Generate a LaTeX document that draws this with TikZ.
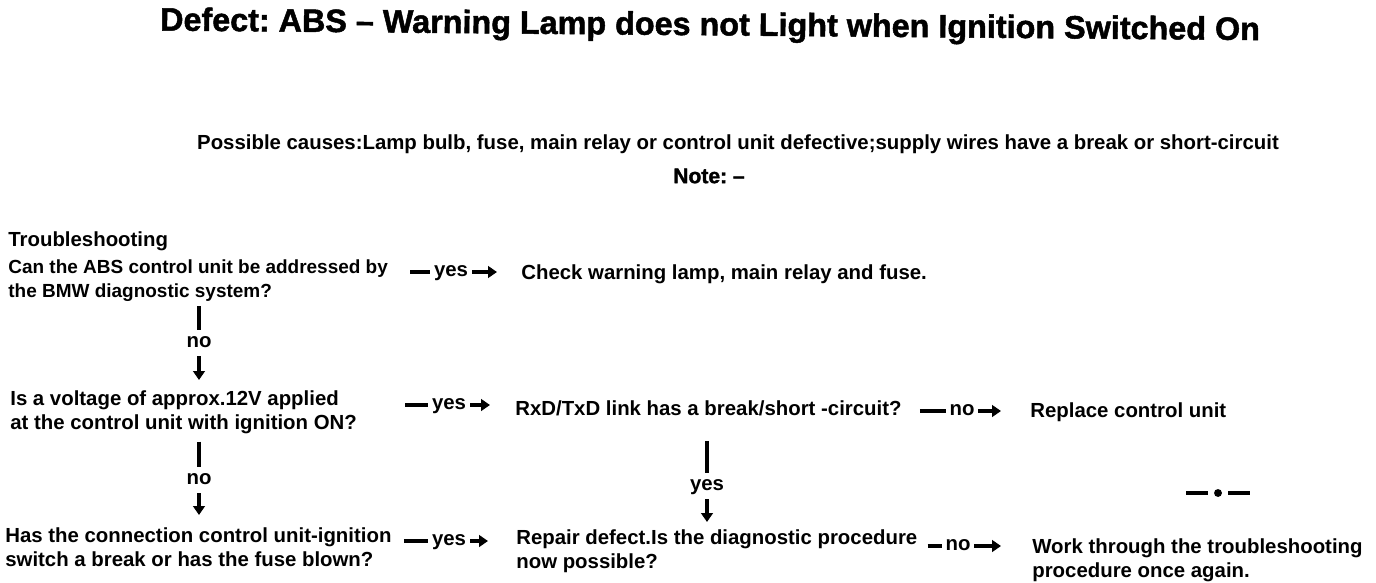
\documentclass[tikz,border=0pt]{standalone}
\usepackage{fontspec}
\setmainfont{Liberation Sans}
\newfontfamily\heavyfont[FakeBold=1.5]{Liberation Sans Bold}
\usetikzlibrary{arrows.meta}
\usetikzlibrary{backgrounds}
\frenchspacing

\begin{document}
\begin{tikzpicture}[x=0.02cm,y=-0.02cm,
    txt/.style={anchor=north west,align=left,inner sep=0pt,
      font=\bfseries\fontsize{11.6}{13.6}\selectfont},
    lbl/.style={fill=white,inner xsep=2pt,inner ysep=1pt,text height=1ex,text depth=0pt,
      font=\bfseries\fontsize{11.6}{13.6}\selectfont},
    vlbl/.style={lbl,inner ysep=5pt},
    link/.style={line width=2.2pt,-{Triangle[length=5pt,width=6.5pt]}},
    bar/.style={line width=2.2pt}]

      \useasboundingbox (0,0) rectangle (1376,582);

      \node (title) [font=\heavyfont\fontsize{18.4}{20}\selectfont,rotate=-0.5] at (710,27)
        {Defect: ABS – Warning Lamp does not Light when Ignition Switched On};

      \node (causes) [txt,anchor=north] at (738,134)
        {Possible causes:Lamp bulb, fuse, main relay or control unit defective;supply wires have a break or short-circuit};
      \node (note) [font=\heavyfont\fontsize{12}{14}\selectfont] at (709,176) {Note: –};

      \node (head) [txt] at (8,231) {Troubleshooting};
      \node (q1) [txt,font=\bfseries\fontsize{10.8}{13.6}\selectfont] at (8,259)
        {Can the ABS control unit be addressed by\\the BMW diagnostic system?};
      \node (c1) [txt] at (521,264) {Check warning lamp, main relay and fuse.};

      \node (q2) [txt] at (10,390) {Is a voltage of approx.12V applied\\at the control unit with ignition ON?};
      \node (r2) [txt] at (515,400) {RxD/TxD link has a break/short -circuit?};
      \node (a2) [txt] at (1030,402) {Replace control unit};

      \node (q3) [txt] at (5,527) {Has the connection control unit-ignition\\switch a break or has the fuse blown?};
      \node (r3) [txt] at (516,529) {Repair defect.Is the diagnostic procedure\\now possible?};
      \node (a3) [txt] at (1032,538) {Work through the troubleshooting\\procedure once again.};

      % labels on the connectors
      \node (yes1) [lbl] at (451,272) {yes};
      \node (yes2) [lbl] at (449,405) {yes};
      \node (yes3) [lbl] at (449,541) {yes};
      \node (no1) [vlbl] at (199,343) {no};
      \node (no2) [vlbl] at (199,480) {no};
      \node (yes4) [vlbl] at (707,486) {yes};
      \node (no3) [lbl] at (962,411) {no};
      \node (no4) [lbl] at (958,546) {no};

      \begin{scope}[on background layer]
      \draw[link,shorten <=0.44cm,shorten >=0.48cm] (q1.east |- yes1) -- (c1.west |- yes1);
      \draw[link,shorten <=0.96cm,shorten >=0.5cm] (q2.east |- yes2) -- (r2.west |- yes2);
      \draw[link,shorten <=0.24cm,shorten >=0.56cm] (q3.east |- yes3) -- (r3.west |- yes3);
      \draw[link,shorten <=0.36cm,shorten >=0.58cm] (r2.east |- no3) -- (a2.west |- no3);
      \draw[link,shorten <=0.2cm,shorten >=0.62cm] (r3.east |- no4) -- (a3.west |- no4);
      \draw[link,shorten <=0.1cm,shorten >=0.2cm] (q1.south -| no1) -- (q2.north -| no1);
      \draw[link,shorten <=0.16cm,shorten >=0.24cm] (q2.south -| no2) -- (q3.north -| no2);
      \draw[link,shorten <=0.5cm,shorten >=0.14cm] (r2.south -| yes4) -- (r3.north -| yes4);
      \end{scope}

      \node (dot) [circle,fill,inner sep=0pt,minimum size=4.5pt] at (1218,493) {};
      \draw[bar] ([xshift=-0.12cm]dot.west) -- ++(-0.44cm,0);
      \draw[bar] ([xshift=0.12cm]dot.east) -- ++(0.44cm,0);

    \end{tikzpicture}
\end{document}
